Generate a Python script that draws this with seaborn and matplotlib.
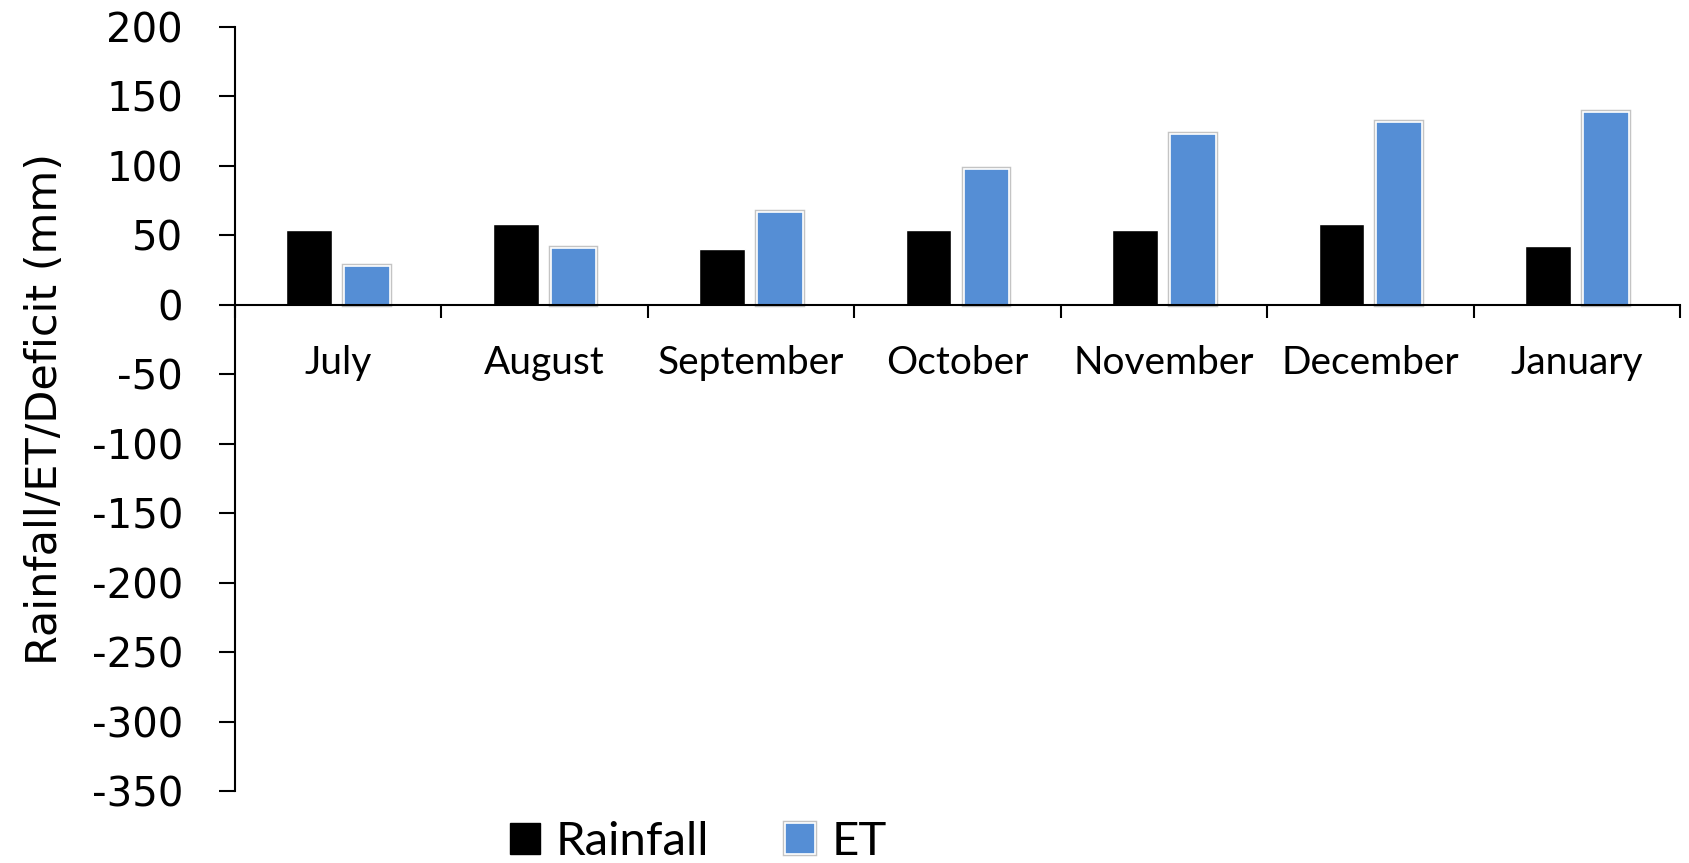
import numpy as np
import pandas as pd
import matplotlib
matplotlib.use("Agg")
import matplotlib.pyplot as plt
import matplotlib.patheffects as pe
from matplotlib.patches import Patch
import seaborn as sns

# Monthly water balance (mm)
months = ["July", "August", "September", "October", "November", "December", "January"]
rainfall = [54, 58, 40.5, 54, 54, 58, 42]
et = [28, 41, 67, 98, 123, 131.5, 139]
series_names = ["Rainfall", "ET"]
y_ticks = list(range(-350, 201, 50))

colors = {"Rainfall": "#000000", "ET": "#558ED5"}

df = pd.DataFrame({
    "Month": months * 2,
    "Series": ["Rainfall"] * len(months) + ["ET"] * len(months),
    "mm": rainfall + et,
})

sns.set_theme(style="white")
plt.rcParams.update({
    "font.family": ["DejaVu Sans"],
    "text.color": "black",
    "axes.labelcolor": "black",
    "xtick.color": "black",
    "ytick.color": "black",
    "xtick.bottom": True,
    "ytick.left": True,
})

fig = plt.figure(figsize=(16.89, 8.63), dpi=100)
ax = fig.add_axes([235 / 1689, 1 - 791 / 863, (1680 - 235) / 1689, (791 - 27) / 863])

sns.barplot(data=df, x="Month", y="mm", hue="Series", order=months,
            hue_order=series_names, palette=colors, width=0.56, gap=0.21,
            errorbar=None, legend=False, saturation=1, ax=ax)

# ET bars: white edge with a light grey outline
for bar in ax.containers[1]:
    bar.set_edgecolor("white")
    bar.set_linewidth(1.2)
    bar.set_path_effects([pe.Stroke(linewidth=3.2, foreground="#c4c4c4"), pe.Normal()])

# spines first: moving a spine rebuilds the tick objects
for side in ("top", "right"):
    ax.spines[side].set_visible(False)
ax.spines["bottom"].set_position(("data", 0))
for side in ("left", "bottom"):
    ax.spines[side].set_color("black")
    ax.spines[side].set_linewidth(1.5)

ax.set_ylim(-350, 200)
ax.set_xlim(-0.5, len(months) - 0.5)
ax.set_yticks(y_ticks)
ax.set_yticklabels([str(v) for v in y_ticks])

# category boundary ticks on the zero line, month names as minor labels
ax.set_xticks(np.arange(-0.5, len(months), 1.0))
ax.set_xticklabels([""] * (len(months) + 1))
ax.set_xticks(np.arange(len(months)), minor=True)
ax.set_xticklabels(months, minor=True)
ax.tick_params(axis="x", which="major", bottom=True, direction="out", length=9,
               width=1.5, color="black")
ax.tick_params(axis="x", which="minor", bottom=True, length=0, pad=29,
               labelsize=28, labelcolor="black")
ax.tick_params(axis="y", which="major", left=True, direction="out", length=11.5,
               width=1.5, color="black", pad=26, labelsize=29, labelcolor="black")
for lab in ax.get_xticklabels(minor=True):
    lab.set_fontfamily(["Lato", "DejaVu Sans"])

ax.set_xlabel("")
ax.set_ylabel("Rainfall/ET/Deficit (mm)", fontsize=31, color="black")
ax.yaxis.set_label_coords(-0.117, 0.5)

handles = [
    Patch(facecolor=colors["Rainfall"], edgecolor=colors["Rainfall"], label="Rainfall"),
    Patch(facecolor=colors["ET"], edgecolor="white", linewidth=1.2,
          path_effects=[pe.Stroke(linewidth=3.2, foreground="#c4c4c4"), pe.Normal()], label="ET"),
]
fig.legend(handles=handles, loc="center", bbox_to_anchor=(698 / 1689, 1 - 842 / 863),
           ncol=2, frameon=False, prop={"family": ["Lato", "DejaVu Sans"], "size": 34},
           handlelength=0.64, handleheight=0.64, handletextpad=0.34, columnspacing=1.6)

fig.savefig("out.png", dpi=100, facecolor="white")
